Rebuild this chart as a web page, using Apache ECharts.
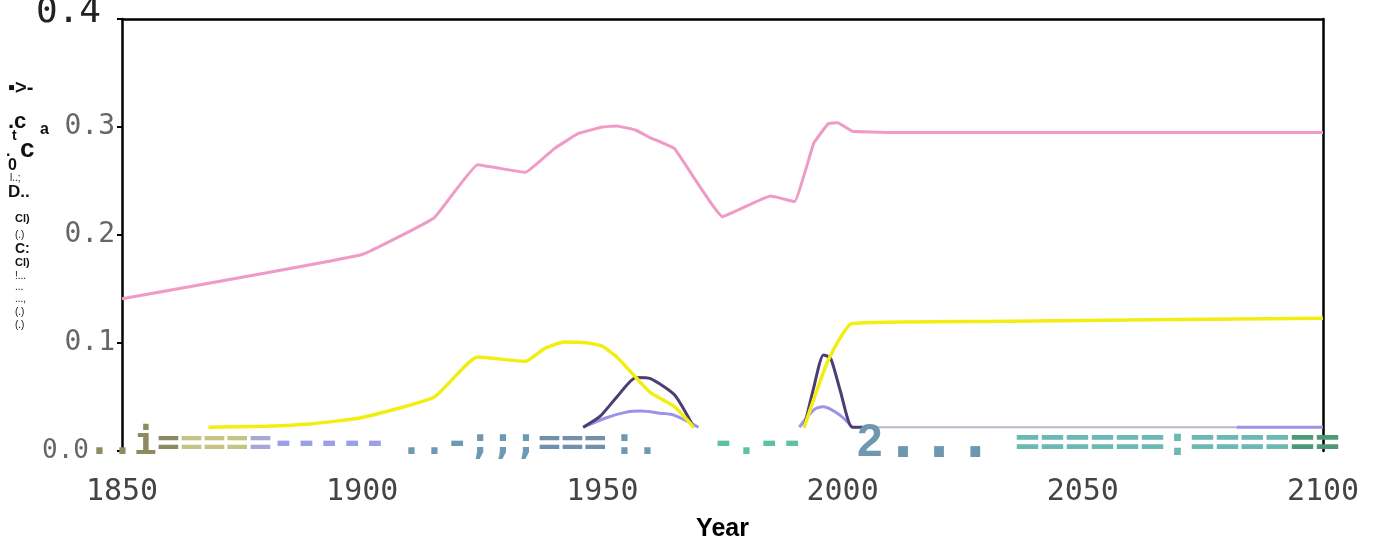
<!DOCTYPE html>
<html>
<head>
<meta charset="utf-8">
<script src="https://cdn.jsdelivr.net/npm/echarts@6/dist/echarts.min.js"></script>
<style>
  html, body { margin: 0; padding: 0; background: #fff; }
  #chart { width: 1373px; height: 546px; }
</style>
</head>
<body>
<div id="chart"></div>
<script>
// values, [year, value]
const pinkLine = [
  [1850, 0.141], [1900, 0.182], [1915, 0.216], [1924, 0.265], [1934, 0.258],
  [1940, 0.280], [1945, 0.294], [1950, 0.300], [1953, 0.301], [1957, 0.297],
  [1960, 0.290], [1965, 0.280], [1975, 0.217], [1985, 0.236], [1990, 0.231],
  [1994, 0.285], [1997, 0.303], [1999, 0.304], [2002, 0.296], [2010, 0.295],
  [2100, 0.295]
];
const yellowLine = [
  [1868, 0.022], [1880, 0.023], [1889, 0.025], [1900, 0.031], [1915, 0.050],
  [1924, 0.087], [1934, 0.083], [1938, 0.095], [1942, 0.101], [1947, 0.100],
  [1950, 0.097], [1953, 0.087], [1957, 0.068], [1960, 0.054], [1965, 0.041],
  [1969, 0.022], [1980, '-'], [1992, 0.022], [1997, 0.084], [2002, 0.118],
  [2030, 0.120], [2100, 0.123]
];
const darkPurpleLine = [
  [1946, 0.022], [1949.5, 0.032], [1953, 0.050], [1957, 0.068], [1960, 0.067],
  [1965, 0.052], [1969, 0.022], [1980, '-'], [1992, 0.022], [1994, 0.059],
  [1996, 0.089], [1997.5, 0.086], [1999.5, 0.056], [2002, 0.022], [2005, 0.022]
];
const lightPurpleLine = [
  [1946, 0.022], [1951, 0.031], [1955, 0.036], [1958, 0.037], [1962, 0.035],
  [1965, 0.033], [1970, 0.022], [1980, '-'], [1991, 0.022], [1994, 0.038],
  [1996, 0.041], [1999.5, 0.033], [2002, 0.022], [2040, '-'], [2082, 0.022], [2100, 0.022]
];
const greyBaseLine = [[2005, 0.022], [2082, 0.022]];
const xTicks = [1850, 1900, 1950, 2000, 2050, 2100];

// scanned junk under the plot: [text, x, color, size]
const stripBits = [
  ['..i', 88, '#8d8b5f', 38],
  ['=', 157, '#8a8a60', 38],
  ['===', 180, '#c6c485', 38],
  ['=', 249, '#a9a6d8', 38],
  ['-----', 272, '#9aa0e8', 38],
  ['..-;;;', 400, '#6e99b2', 38],
  ['===', 538, '#7090ab', 38],
  [':.', 613, '#6e99b2', 38],
  ['-.--', 712, '#5cc49b', 38],
  ['======:====', 1015, '#6cb8b2', 41.5],
  ['==', 1290, '#4e9a78', 41.5]
];
// scanned junk where the y axis title was: [text, x, y, size, weight]
const yTitleBits = [
  ['▪>-', 8, 88, 20, 'bold'],
  ['.c', 8, 122, 22, 'bold'],
  ['t', 12, 136, 14, 'bold'],
  ['c', 20, 150, 26, 'bold'],
  ['a', 40, 130, 16, 'bold'],
  ['.', 6, 152, 16, 'bold'],
  ['0', 8, 166, 16, 'bold'],
  ['l..;', 10, 178, 10, 'normal'],
  ['D..', 8, 192, 17, 'bold'],
  ['Cl)', 15, 219, 11, 'bold'],
  ['(.)', 15, 235, 10, 'normal'],
  ['C:', 15, 249, 14, 'bold'],
  ['Cl)', 15, 263, 11, 'bold'],
  ['!...', 15, 276, 10, 'normal'],
  ['...', 15, 287, 10, 'normal'],
  ['...,', 15, 299, 10, 'normal'],
  ['(.)', 15, 312, 10, 'normal'],
  ['(.)', 15, 325, 10, 'normal']
];

const chart = echarts.init(document.getElementById('chart'));

const graphic = [];
stripBits.forEach(function (b) {
  graphic.push({
    type: 'text', x: b[1], y: 444, z: 100,
    style: { text: b[0], fill: b[2], font: 'bold ' + b[3] + 'px "DejaVu Sans Mono"', verticalAlign: 'middle' }
  });
});
graphic.push({
  type: 'text', x: 857, y: 443, z: 100,
  style: { text: '2', fill: '#7097b0', font: 'bold 46px "Liberation Sans"', verticalAlign: 'middle' }
});
graphic.push({
  type: 'text', x: 885, y: 441, z: 100,
  style: { text: '...', fill: '#7097b0', font: 'bold 60px "DejaVu Sans Mono"', verticalAlign: 'middle' }
});
yTitleBits.forEach(function (b) {
  graphic.push({
    type: 'text', x: b[1], y: b[2],
    style: { text: b[0], fill: '#111', font: b[4] + ' ' + b[3] + 'px "Liberation Sans"', verticalAlign: 'middle' }
  });
});

const option = {
  animation: false,
  backgroundColor: '#fff',
  grid: { left: 122, right: 50, top: 19, bottom: 95, containLabel: false, outerBoundsMode: 'none' },
  graphic: graphic,
  xAxis: [
    {
      type: 'value', min: 1850, max: 2100, interval: 50,
      name: 'Year', nameLocation: 'middle', nameGap: 66,
      nameTextStyle: { fontSize: 25, fontWeight: 'bold', color: '#000', fontFamily: 'Liberation Sans' },
      axisLine: { show: false },
      axisTick: { show: false },
      splitLine: { show: false },
      axisLabel: {
        margin: 26, fontSize: 30, color: '#444', fontFamily: 'DejaVu Sans Mono',
        formatter: function (v) { return xTicks.indexOf(v) >= 0 ? String(v) : ''; }
      }
    },
    {
      type: 'value', min: 1850, max: 2100, position: 'top',
      axisLine: { show: true, onZero: false, lineStyle: { color: '#000', width: 2.5 } },
      axisTick: { show: false }, axisLabel: { show: false }, splitLine: { show: false }
    }
  ],
  yAxis: [
    {
      type: 'value', min: 0, max: 0.4, interval: 0.1,
      axisLine: { show: true, onZero: false, lineStyle: { color: '#000', width: 2.5 } },
      axisTick: { show: true, length: 5, lineStyle: { color: '#000', width: 2 } },
      splitLine: { show: false },
      axisLabel: {
        margin: 7,
        formatter: function (v) {
          const s = v.toFixed(1);
          if (v > 0.35) return '{top|' + s + '}';
          if (v < 0.05) return '{zero|' + s + '}';
          return '{n|' + s + '}';
        },
        rich: {
          top: { fontSize: 36, color: '#222', fontFamily: 'DejaVu Sans Mono', padding: [0, 14, 12, 0] },
          zero: { fontSize: 26, color: '#666', fontFamily: 'DejaVu Sans Mono', padding: [0, 26, 0, 0] },
          n: { fontSize: 28, color: '#666', fontFamily: 'DejaVu Sans Mono' }
        }
      }
    },
    {
      type: 'value', min: 0, max: 0.4, position: 'right',
      axisLine: { show: true, onZero: false, lineStyle: { color: '#000', width: 2.5 } },
      axisTick: { show: false }, axisLabel: { show: false }, splitLine: { show: false }
    }
  ],
  series: [
    {
      name: 'grey base', type: 'line', data: greyBaseLine, showSymbol: false,
      lineStyle: { color: '#b9b6c6', width: 2 }
    },
    {
      name: 'pink', type: 'line', data: pinkLine, showSymbol: false, smooth: 0.08,
      lineStyle: { color: '#f09ac6', width: 3 }
    },
    {
      name: 'light purple', type: 'line', data: lightPurpleLine, showSymbol: false, smooth: 0.3,
      lineStyle: { color: '#9b93e8', width: 3 }
    },
    {
      name: 'dark purple', type: 'line', data: darkPurpleLine, showSymbol: false, smooth: 0.2,
      lineStyle: { color: '#4d3d72', width: 3 }
    },
    {
      name: 'yellow', type: 'line', data: yellowLine, showSymbol: false, smooth: 0.15,
      lineStyle: { color: '#f2ee12', width: 3.5 }
    }
  ]
};
chart.setOption(option);
</script>
</body>
</html>
